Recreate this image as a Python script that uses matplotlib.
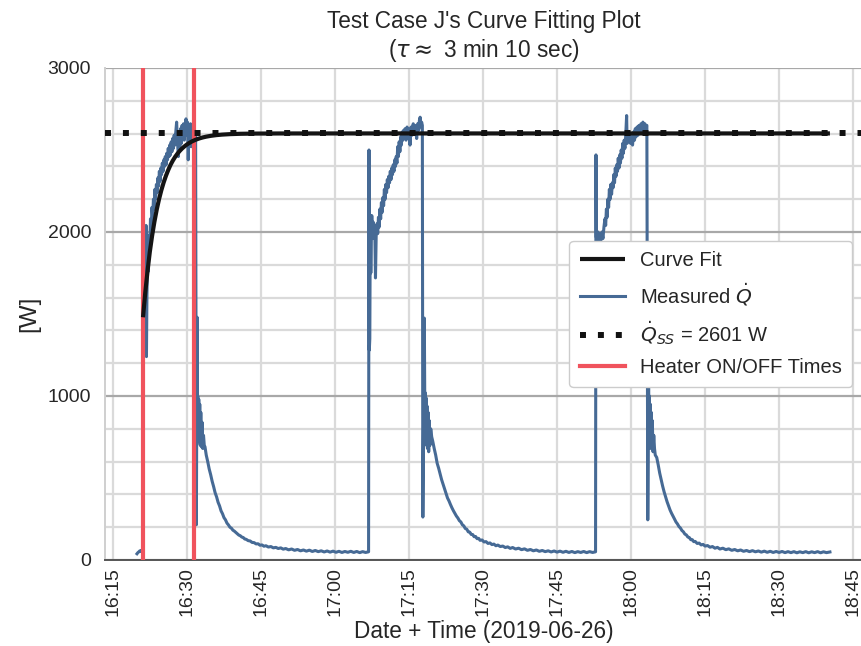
import numpy as np
import matplotlib
matplotlib.use("Agg")
import matplotlib.pyplot as plt
import matplotlib.dates as mdates
from matplotlib.ticker import MultipleLocator, FixedLocator

plt.rcParams["font.family"] = ["Liberation Sans", "DejaVu Sans"]

# ---- data (minutes after 16:00 on 2019-06-26, power in W) ----
day_start = np.datetime64("2019-06-26T16:00:00")

cycle1_min = [19.87, 20.05, 20.25, 20.45, 20.65, 20.85, 21.05,
              21.10, 21.30, 21.50, 21.70, 21.78, 21.88, 22.00, 22.15,
              22.30, 22.45, 22.60, 22.75, 22.90, 23.05, 23.20, 23.35, 23.50, 23.65,
              23.80, 23.95, 24.10, 24.25, 24.40, 24.55, 24.70, 24.85, 25.00, 25.15,
              25.30, 25.45, 25.60, 25.75, 25.90, 26.05, 26.20, 26.35, 26.50, 26.65,
              26.80, 26.95, 27.10, 27.25, 27.40, 27.55, 27.70, 27.90, 28.05, 28.25,
              28.40, 28.55, 28.70, 28.85, 29.00, 29.15, 29.30, 29.45, 29.60, 29.80,
              29.95, 30.10, 30.25, 30.40, 30.55, 30.70, 30.85, 31.00, 31.15, 31.30,
              31.40, 31.75,
              31.90, 32.05, 32.12, 32.20, 32.28, 32.38, 32.48, 32.58, 32.68, 32.80,
              32.92, 33.05, 33.20, 33.35, 33.50, 33.65,
              33.9, 34.2, 34.5, 34.8, 35.1, 35.4, 35.7, 36.0, 36.3, 36.6, 36.9, 37.2,
              37.5, 37.8, 38.1, 38.4, 38.7, 39.0, 39.3, 39.6, 39.9, 40.2, 40.5, 40.8,
              41.1, 41.4, 41.7, 42.0, 42.4, 42.8, 43.2, 43.6, 44.0, 44.4, 44.8, 45.2,
              45.6, 46.0, 46.5, 47.0, 47.5, 48.0, 48.5, 49.0, 49.5, 50.0, 50.6, 51.2,
              51.8, 52.4, 53.0, 53.6, 54.2, 54.8, 55.4, 56.0, 56.6, 57.2, 57.8, 58.4,
              59.0, 59.6, 60.2, 60.8, 61.4, 62.0, 62.6, 63.2, 63.8, 64.4, 65.0, 65.6,
              66.2, 66.8]
cycle1_w = [38, 45, 50, 56, 53, 60, 58,
            1480, 1510, 1560, 2040, 1240, 1620, 1820, 1760,
            1980, 1900, 2080, 2020, 2150, 2090, 2200, 2140, 2260, 2200,
            2290, 2240, 2330, 2280, 2370, 2310, 2390, 2350, 2420, 2370,
            2440, 2400, 2460, 2410, 2480, 2440, 2510, 2460, 2530, 2470,
            2550, 2490, 2570, 2510, 2590, 2530, 2600, 2670, 2560, 2460,
            2600, 2520, 2630, 2540, 2650, 2570, 2660, 2560, 2640, 2690,
            2590, 2670, 2440, 2620, 2560, 2660, 2520, 2640, 2580, 2650,
            2620, 2600,
            215, 1480, 960, 1000, 760, 980, 720, 950, 700, 900,
            690, 840, 680, 760, 700, 690,
            640, 600, 555, 520, 480, 447, 410, 385, 352, 330, 300, 282,
            258, 245, 225, 214, 200, 194, 182, 176, 168, 160, 152, 148,
            140, 137, 128, 126, 118, 116, 107, 106, 98, 99, 90, 92,
            84, 87, 79, 82, 74, 77, 70, 74, 66, 70, 62, 67,
            59, 64, 56, 61, 54, 60, 52, 58, 51, 56, 49, 55,
            48, 54, 47, 53, 46, 52, 47, 53, 46, 52, 45, 51,
            46, 50]

cycle2_min = [66.88, 66.95, 67.05, 67.15, 67.25, 67.35, 67.45, 67.6, 67.75, 67.9,
              68.05, 68.2, 68.35, 68.5, 68.65, 68.8, 68.95, 69.1, 69.25, 69.4,
              69.55, 69.7, 69.85, 70.0, 70.15, 70.3, 70.45, 70.6, 70.75, 70.9,
              71.05, 71.2, 71.35, 71.5, 71.65, 71.8, 71.95, 72.1, 72.25, 72.4,
              72.55, 72.7, 72.85, 73.0, 73.15, 73.3, 73.45, 73.6, 73.75, 73.9,
              74.05, 74.2, 74.4, 74.6, 74.8, 75.0, 75.2, 75.4, 75.6, 75.85,
              76.05, 76.25, 76.55, 76.75, 76.95, 77.1, 77.25, 77.4, 77.55, 77.7,
              77.8, 78.1, 78.18, 78.26, 78.34, 78.44, 78.54, 78.64, 78.74, 78.86,
              78.98, 79.1, 79.25, 79.4, 79.6,
              79.8, 80.1, 80.4, 80.7, 81.0, 81.3, 81.6, 81.9, 82.2, 82.5, 82.8, 83.1,
              83.4, 83.7, 84.0, 84.3, 84.6, 84.9, 85.2, 85.5, 85.8, 86.1, 86.4, 86.7,
              87.0, 87.3, 87.6, 87.9, 88.2, 88.5, 88.8, 89.1, 89.4, 89.8, 90.2, 90.6,
              91.0, 91.4, 91.8, 92.2, 92.6, 93.0, 93.5, 94.0, 94.5, 95.0, 95.5, 96.0,
              96.6, 97.2, 97.8, 98.4, 99.0, 99.6, 100.2, 100.8, 101.4, 102.0, 102.6,
              103.2, 103.8, 104.4, 105.0, 105.6, 106.2, 106.8, 107.4, 108.0, 108.6,
              109.2, 109.8, 110.4, 111.0, 111.6, 112.2, 112.8]
cycle2_w = [2500, 1280, 1350, 2100, 1750, 1950, 2100, 1960, 2060, 1980,
            2040, 1720, 1990, 2050, 1990, 2090, 2030, 2140, 2080, 2180,
            2120, 2210, 2160, 2260, 2200, 2290, 2240, 2320, 2270, 2340,
            2300, 2370, 2320, 2390, 2350, 2410, 2370, 2440, 2400, 2460,
            2420, 2520, 2460, 2550, 2490, 2580, 2530, 2610, 2560, 2620,
            2580, 2630, 2560, 2640, 2590, 2620, 2530, 2640, 2590, 2660,
            2600, 2650, 2570, 2660, 2620, 2680, 2700, 2640, 2670, 2650,
            262, 1475, 990, 1020, 760, 990, 700, 940, 680, 900,
            660, 850, 700, 800, 750,
            725, 680, 640, 590, 560, 525, 490, 462, 432, 405, 378, 360,
            338, 318, 300, 284, 268, 256, 240, 232, 215, 208, 192, 188,
            172, 170, 156, 155, 142, 143, 130, 132, 120, 122, 110, 112,
            101, 104, 94, 97, 87, 91, 82, 85, 76, 80, 71, 76,
            67, 72, 63, 68, 59, 64, 56, 61, 53, 58, 51,
            56, 49, 55, 48, 54, 47, 53, 46, 52, 45,
            51, 46, 52, 45, 51, 46, 50]

cycle3_min = [112.88, 112.95, 113.1, 113.3, 113.5, 113.7, 113.9, 114.1, 114.3, 114.5,
              114.7, 114.85, 115.0, 115.15, 115.3, 115.45, 115.6, 115.75, 115.9, 116.05,
              116.2, 116.35, 116.5, 116.65, 116.8, 116.95, 117.1, 117.25, 117.4, 117.55,
              117.7, 117.85, 118.0, 118.15, 118.3, 118.45, 118.6, 118.75, 118.9, 119.1,
              119.2, 119.35, 119.5, 119.7, 119.9, 120.1, 120.3, 120.5, 120.7, 120.85,
              121.0, 121.2, 121.4, 121.6, 121.8, 122.0, 122.2, 122.4, 122.6, 122.8,
              123.0, 123.2,
              123.38, 123.55, 123.62, 123.7, 123.8, 123.9, 124.0, 124.1, 124.2, 124.3,
              124.45, 124.6, 124.75, 124.9,
              125.2, 125.5, 125.8, 126.1, 126.4, 126.7, 127.0, 127.3, 127.6, 127.9,
              128.2, 128.5, 128.8, 129.1, 129.4, 129.7, 130.0, 130.3, 130.6, 130.9,
              131.2, 131.5, 131.8, 132.1, 132.4, 132.7, 133.0, 133.4, 133.8, 134.2,
              134.6, 135.0, 135.5, 136.0, 136.5, 137.0, 137.5, 138.0, 138.6, 139.2,
              139.8, 140.4, 141.0, 141.6, 142.2, 142.8, 143.4, 144.0, 144.6, 145.2,
              145.8, 146.4, 147.0, 147.6, 148.2, 148.8, 149.4, 150.0, 150.6, 151.2,
              151.8, 152.4, 153.0, 153.6, 154.2, 154.8, 155.4, 156.0, 156.6, 157.2,
              157.8, 158.4, 159.0, 159.6, 160.3]
cycle3_w = [2470, 1970, 1950, 2000, 1940, 1990, 1950, 2000, 1960, 2030,
            2080, 2040, 2140, 2090, 2200, 2150, 2260, 2200, 2290, 2230,
            2300, 2270, 2350, 2300, 2390, 2340, 2410, 2370, 2450, 2390,
            2470, 2420, 2500, 2450, 2540, 2480, 2560, 2510, 2580, 2710,
            2540, 2610, 2560, 2600, 2540, 2580, 2530, 2610, 2560, 2630,
            2580, 2640, 2590, 2650, 2600, 2660, 2620, 2670, 2610, 2660,
            2640, 2650,
            245, 1080, 820, 1000, 720, 950, 680, 900, 700, 850,
            660, 760, 680, 640,
            625, 580, 530, 490, 450, 415, 385, 355, 330, 305,
            285, 268, 250, 232, 220, 204, 195, 180, 172, 158,
            153, 140, 137, 124, 124, 112, 113, 101, 103, 92,
            95, 85, 88, 78, 82, 72, 77, 67, 72, 63,
            68, 59, 64, 56, 61, 53, 58, 51, 57, 50,
            55, 48, 54, 47, 53, 46, 52, 46, 52, 45,
            51, 45, 51, 44, 50, 45, 51, 44, 50, 45,
            51, 44, 50, 45, 49]

heater_on_off_min = [21.08, 31.42]

# fitted first-order response
q_ss = 2601.0          # steady-state power, W
tau_min = 3 + 10 / 60  # time constant, 3 min 10 s
q_fit_start = 1480.0   # power at the start of the fit, W


def to_time(minutes):
    secs = np.round(np.asarray(minutes, dtype=float) * 60).astype("timedelta64[s]")
    return day_start + secs


meas_min = np.array(cycle1_min + cycle2_min + cycle3_min)
meas_w = np.array(cycle1_w + cycle2_w + cycle3_w, dtype=float)

fit_min = np.linspace(heater_on_off_min[0], meas_min[-1], 600)
fit_w = q_ss - (q_ss - q_fit_start) * np.exp(-(fit_min - heater_on_off_min[0]) / tau_min)

# ---- figure ----
fig = plt.figure(figsize=(8.62, 6.46), dpi=100)
ax = fig.add_axes([105 / 862, 86 / 646, 757 / 862, 492 / 646])

blue = "#466a95"
red = "#f0535d"
text_color = "#262626"

ax.plot(to_time(fit_min), fit_w, color="#141414", lw=3.0, zorder=4,
        solid_capstyle="butt", label="Curve Fit")
ax.plot(to_time(meas_min), meas_w, color=blue, lw=2.2, zorder=2,
        label=r"Measured $\dot{Q}$")
ax.axhline(q_ss, color="#111111", lw=4.3, ls=(0, (1, 2)), zorder=5,
           label=r"$\dot{Q}_{SS}$ = %d W" % q_ss)
for i, m in enumerate(heater_on_off_min):
    ax.axvline(to_time([m])[0], color=red, lw=3.0, zorder=3,
               label="Heater ON/OFF Times" if i == 0 else None)

# axes limits and ticks
ax.set_xlim(to_time([13.38])[0], to_time([166.8])[0])
ax.set_ylim(0, 3000)
ax.yaxis.set_major_locator(FixedLocator([0, 1000, 2000, 3000]))
ax.yaxis.set_minor_locator(MultipleLocator(200))
ax.xaxis.set_major_locator(mdates.MinuteLocator(byminute=[0, 15, 30, 45]))
ax.xaxis.set_major_formatter(mdates.DateFormatter("%H:%M"))
ax.tick_params(which="both", length=0)
ax.tick_params(axis="y", labelsize=14, pad=10, labelcolor=text_color)
ax.tick_params(axis="x", labelsize=14, pad=5, labelrotation=90, labelcolor=text_color)

# grid
ax.set_axisbelow(True)
ax.grid(which="major", axis="x", color="#dadada", lw=1.6)
ax.grid(which="major", axis="y", color="#a8a8a8", lw=1.6)
ax.grid(which="minor", axis="y", color="#dadada", lw=1.6)
for side in ("top", "right"):
    ax.spines[side].set_visible(False)
ax.spines["left"].set_color("#cfcfcf")
ax.spines["left"].set_linewidth(1.4)
ax.spines["bottom"].set_color("#555555")
ax.spines["bottom"].set_linewidth(1.4)

ax.set_xlabel("Date + Time (2019-06-26)", fontsize=16.3, color=text_color, labelpad=3)
ax.set_ylabel("[W]", fontsize=17.5, color=text_color, labelpad=5)

ax.set_title("Test Case J's Curve Fitting Plot\n" + r"($\tau \approx$ 3 min 10 sec)",
             fontsize=16.3, color=text_color, pad=8, linespacing=1.2)

leg = ax.legend(loc="center right", fontsize=14.5, frameon=True, fancybox=True,
                framealpha=1.0, edgecolor="#cccccc", handlelength=2.25,
                handletextpad=0.75, labelspacing=0.55, borderpad=0.5)
leg.get_frame().set_linewidth(1.0)
for txt in leg.get_texts():
    txt.set_color(text_color)

fig.savefig("out.png", dpi=100)
